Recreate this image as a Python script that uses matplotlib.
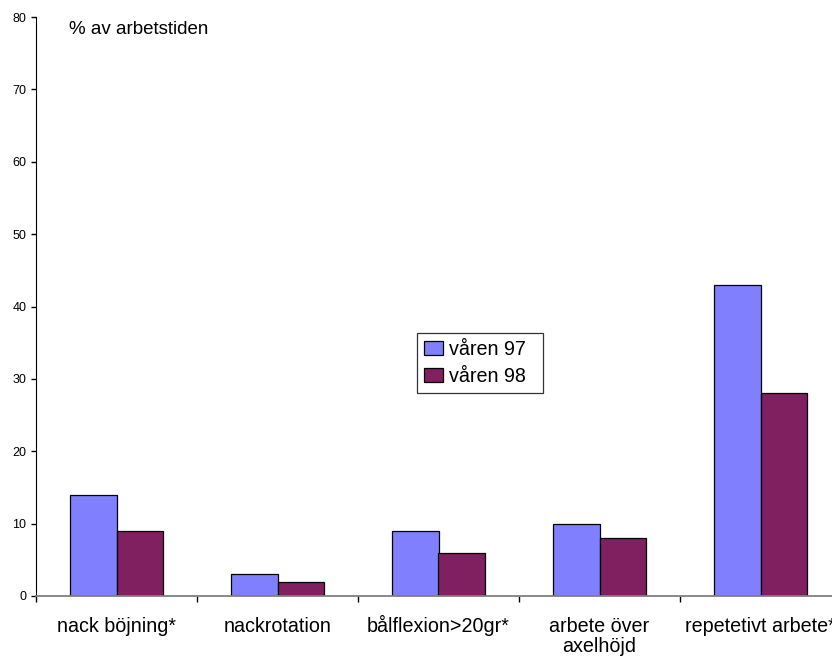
import matplotlib.pyplot as plt
from matplotlib.legend_handler import HandlerPatch
from matplotlib.patches import Rectangle
from matplotlib.transforms import offset_copy
import numpy as np

plt.rcParams['font.family'] = ['Liberation Sans', 'DejaVu Sans']

kategorier = ["nack böjning*", "nackrotation", "bålflexion>20gr*",
              "arbete över\naxelhöjd", "repetetivt arbete*"]
varen_97 = [14, 3, 9, 10, 43]
varen_98 = [9, 2, 6, 8, 28]
serier = ["våren 97", "våren 98"]

fig = plt.figure(figsize=(8.32, 6.57), dpi=100)
ax = fig.add_axes([36 / 832, 61 / 657, 805 / 832, 579 / 657])

x = np.arange(len(kategorier))
w = 0.286
ax.bar(x - w / 2, varen_97, w, color="#8080ff", edgecolor="black", linewidth=0.9, label=serier[0])
ax.bar(x + w / 2, varen_98, w, color="#802060", edgecolor="black", linewidth=0.9, label=serier[1])

ax.set_xlim(-0.5, len(kategorier) - 0.5)
ax.set_ylim(0, 80)
ax.set_yticks(range(0, 81, 10))
ax.tick_params(axis="y", labelsize=9, length=3.8, width=1, direction="out", pad=3)

# tickstreck mellan kategorierna, namnen skrivs ut på baslinjen under varje grupp
ax.set_xticks(np.arange(len(kategorier) + 1) - 0.5)
ax.set_xticklabels([])
ax.tick_params(axis="x", which="major", length=4.3, width=1, color="black")
for i, namn in enumerate(kategorier):
    for j, rad in enumerate(namn.split("\n")):
        tr = offset_copy(ax.get_xaxis_transform(), fig=fig, y=-36 - 20 * j, units="dots")
        ax.text(i, 0, rad, transform=tr, ha="center", va="baseline", fontsize=14.2,
                clip_on=False)

for s in ["top", "right"]:
    ax.spines[s].set_visible(False)
ax.spines["left"].set_color("black")
ax.spines["bottom"].set_color("#808080")
ax.spines["bottom"].set_linewidth(1.3)

fig.text(69 / 832, 1 - 29 / 657, "% av arbetstiden", fontsize=13.5, va="center")


def kvadrat(legend, orig_handle, xdescent, ydescent, width, height, fontsize):
    return Rectangle((width - height - xdescent, -ydescent), height, height)


leg = ax.legend(loc="upper left", bbox_to_anchor=(417 / 832, 1 - 333 / 657),
                bbox_transform=fig.transFigure, fontsize=14.2, frameon=True,
                fancybox=False, edgecolor="black", handlelength=0.95, handleheight=0.66,
                handletextpad=0.3, borderpad=0.35, labelspacing=0.4, borderaxespad=0,
                handler_map={Rectangle: HandlerPatch(patch_func=kvadrat)})
leg.get_frame().set_linewidth(0.9)
for t in leg.get_texts():
    t.set_text(t.get_text() + "  ")

fig.savefig("out.png", dpi=100)
